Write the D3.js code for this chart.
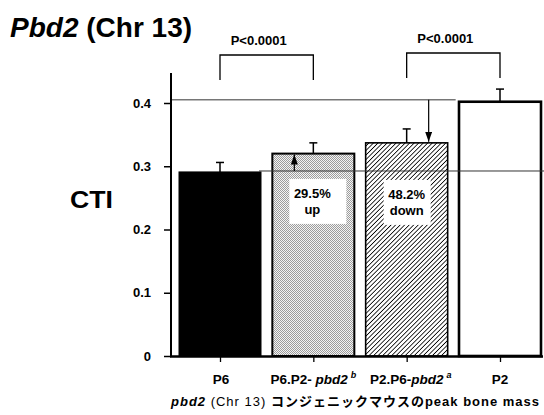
<!DOCTYPE html>
<html>
<head>
<meta charset="utf-8">
<style>
body{ margin:0; background:#fff; }
svg{ display:block; }
text{ font-family: "Liberation Sans", Arial, sans-serif; font-weight:bold; fill:#000; }
.jp{ font-family: "Noto Sans CJK JP", sans-serif; }
</style>
</head>
<body>
<svg id="chart"></svg>
<script src="https://d3js.org/d3.v7.min.js"></script>
<script>
// data
var groups = ["P6", "P6.P2-pbd2b", "P2.P6-pbd2a", "P2"];
var means = [0.291, 0.320, 0.337, 0.402];
var errors = [0.015, 0.017, 0.022, 0.020];
var yTicks = [0, 0.1, 0.2, 0.3, 0.4];
var pLabels = ["P<0.0001", "P<0.0001"];
var pPairs = [[0, 1], [2, 3]];
var changeText = [["29.5%", "up"], ["48.2%", "down"]];

var width = 544, height = 415;
var svg = d3.select("#chart").attr("width", width).attr("height", height);

var x = d3.scalePoint().domain(groups).range([220, 500]);
var y = d3.scaleLinear().domain([0, 0.4]).range([356, 103]);
var barW = 82;

var defs = svg.append("defs");
// stipple for the P6.P2 bar
var dots = defs.append("pattern").attr("id", "dots")
    .attr("width", 2).attr("height", 2).attr("patternUnits", "userSpaceOnUse");
dots.append("rect").attr("width", 2).attr("height", 2).attr("fill", "#f4f4f4");
dots.append("rect").attr("width", 1).attr("height", 1).attr("fill", "#9c9c9c");
dots.append("rect").attr("x", 1).attr("y", 1).attr("width", 1).attr("height", 1).attr("fill", "#9c9c9c");
// hatching for the P2.P6 bar
var hatch = defs.append("pattern").attr("id", "hatch")
    .attr("width", 3.2).attr("height", 3.2).attr("patternUnits", "userSpaceOnUse")
    .attr("patternTransform", "rotate(45)");
hatch.append("rect").attr("width", 3.2).attr("height", 3.2).attr("fill", "#fff");
hatch.append("line").attr("x1", 0).attr("y1", 0).attr("x2", 0).attr("y2", 3.2)
    .attr("stroke", "#000").attr("stroke-width", 1.6);
defs.append("marker").attr("id", "arrow")
    .attr("viewBox", "0 0 10 7").attr("refX", 10).attr("refY", 3.5)
    .attr("markerWidth", 10).attr("markerHeight", 7).attr("orient", "auto")
    .attr("markerUnits", "userSpaceOnUse")
    .append("path").attr("d", "M0,0 L10,3.5 L0,7 Z").attr("fill", "#000");

var fills = ["#000", "url(#dots)", "url(#hatch)", "#fff"];
var strokeW = [1, 2, 1.6, 2.6];

// title
var title = svg.append("text").attr("x", 10).attr("y", 37).style("font-size", "28px");
title.append("tspan").style("font-style", "italic").text("Pbd2");
title.append("tspan").text(" (Chr 13)");

// y label
svg.append("text").attr("x", 70).attr("y", 208).style("font-size", "23px")
    .attr("textLength", 43).attr("lengthAdjust", "spacingAndGlyphs").text("CTI");

// bars
svg.selectAll("rect.bar").data(groups).enter().append("rect")
    .attr("class", "bar")
    .attr("x", function(d){ return x(d) - barW / 2; })
    .attr("width", barW)
    .attr("y", function(d, i){ return y(means[i]); })
    .attr("height", function(d, i){ return y(0) - y(means[i]); })
    .attr("fill", function(d, i){ return fills[i]; })
    .attr("stroke", "#000")
    .attr("stroke-width", function(d, i){ return strokeW[i]; });

// error bars
groups.forEach(function(g, i){
    var top = y(means[i] + errors[i]);
    svg.append("line").attr("x1", x(g)).attr("x2", x(g))
        .attr("y1", y(means[i])).attr("y2", top)
        .attr("stroke", "#000").attr("stroke-width", 1.5);
    svg.append("line").attr("x1", x(g) - 4).attr("x2", x(g) + 4)
        .attr("y1", top).attr("y2", top)
        .attr("stroke", "#000").attr("stroke-width", 1.5);
});

// reference lines at the parental means
svg.append("line").attr("x1", 172).attr("x2", x(groups[2]) + 49)
    .attr("y1", y(0.405)).attr("y2", y(0.405))
    .attr("stroke", "#333").attr("stroke-width", 1);
svg.append("line").attr("x1", x(groups[0]) + 39).attr("x2", width)
    .attr("y1", y(0.2925)).attr("y2", y(0.2925))
    .attr("stroke", "#333").attr("stroke-width", 1);

// change boxes
var boxes = [{g: 1, dx: -1, w: 57}, {g: 2, dx: 0, w: 47}];
boxes.forEach(function(b, k){
    var cx = x(groups[b.g]) + b.dx;
    var left = cx - 23;
    svg.append("rect").attr("x", left).attr("y", y(0.28) + k)
        .attr("width", b.w).attr("height", 45).attr("fill", "#fff");
    svg.append("text").attr("x", cx).attr("y", y(0.28) + 19 + k)
        .attr("text-anchor", "middle").style("font-size", "13px").text(changeText[k][0]);
    svg.append("text").attr("x", cx).attr("y", y(0.28) + 35 + k)
        .attr("text-anchor", "middle").style("font-size", "13px").text(changeText[k][1]);
});

// arrows
svg.append("line").attr("x1", x(groups[1]) - 19).attr("x2", x(groups[1]) - 19)
    .attr("y1", y(0.2925)).attr("y2", y(means[1]) + 1)
    .attr("stroke", "#000").attr("stroke-width", 1.2).attr("marker-end", "url(#arrow)");
svg.append("line").attr("x1", x(groups[2]) + 22).attr("x2", x(groups[2]) + 22)
    .attr("y1", y(0.405)).attr("y2", y(means[2]) - 1)
    .attr("stroke", "#000").attr("stroke-width", 1.2).attr("marker-end", "url(#arrow)");

// y axis
var yAxis = d3.axisLeft(y).tickValues(yTicks).tickSize(7).tickPadding(13)
    .tickFormat(function(d){ return d == 0 ? "0" : d3.format(".1f")(d); });
var gy = svg.append("g").attr("transform", "translate(171,0)").call(yAxis);
gy.select(".domain").remove();
gy.append("line").attr("x1", 0).attr("x2", 0).attr("y1", 73).attr("y2", y(0) + 1)
    .attr("stroke", "#000").attr("stroke-width", 2);
gy.selectAll(".tick line").attr("stroke", "#000").attr("stroke-width", 1.5);
gy.selectAll(".tick text").style("font-size", "13px").style("font-family", "Liberation Sans, Arial, sans-serif")
    .style("font-weight", "bold").attr("fill", "#000");

// baseline with ticks under each bar
var xAxis = d3.axisBottom(x).tickSize(6).tickFormat("");
var gx = svg.append("g").attr("transform", "translate(0," + y(0) + ")").call(xAxis);
gx.select(".domain").remove();
gx.selectAll(".tick line").attr("stroke", "#000").attr("stroke-width", 1.3);
svg.append("line").attr("x1", 170).attr("x2", 543).attr("y1", y(0) + 0.5).attr("y2", y(0) + 0.5)
    .attr("stroke", "#000").attr("stroke-width", 2.6);

// group labels
var labelDx = [1, 0, 4, 0];
groups.forEach(function(g, i){
    var t = svg.append("text").attr("x", x(g) + labelDx[i]).attr("y", 384)
        .attr("text-anchor", "middle").style("font-size", "13.5px");
    var m = g.match(/^(.*?-)(pbd2)(a|b)$/);
    if (m) {
        t.append("tspan").text(m[1] + (i == 1 ? " " : ""));
        t.append("tspan").style("font-style", "italic").text(m[2]);
        t.append("tspan").style("font-style", "italic").style("font-size", "9px")
            .attr("dx", 3).attr("dy", -6).text(m[3]);
    } else {
        t.text(g);
    }
});

// significance brackets
pPairs.forEach(function(p, k){
    var x1 = x(groups[p[0]]), x2 = x(groups[p[1]]);
    var top = k == 0 ? 55 : 53, bot = k == 0 ? 80 : 78;
    svg.append("path")
        .attr("d", "M" + x1 + "," + bot + "V" + top + "H" + x2 + "V" + bot)
        .attr("fill", "none").attr("stroke", "#000").attr("stroke-width", 1.3);
    svg.append("text").attr("x", (x1 + x2) / 2 - 8).attr("y", top - 10)
        .attr("text-anchor", "middle").style("font-size", "13px").text(pLabels[k]);
});

// caption
var cap = svg.append("text").attr("x", 171).attr("y", 406).style("font-size", "13px")
    .attr("textLength", 368).attr("lengthAdjust", "spacing");
cap.append("tspan").style("font-style", "italic").text("pbd2");
cap.append("tspan").style("font-weight", "normal").text(" (Chr 13) ");
cap.append("tspan").attr("class", "jp").style("font-weight", "bold")
    .text("コンジェニックマウスの");
cap.append("tspan").text("peak bone mass");
</script>
</body>
</html>
